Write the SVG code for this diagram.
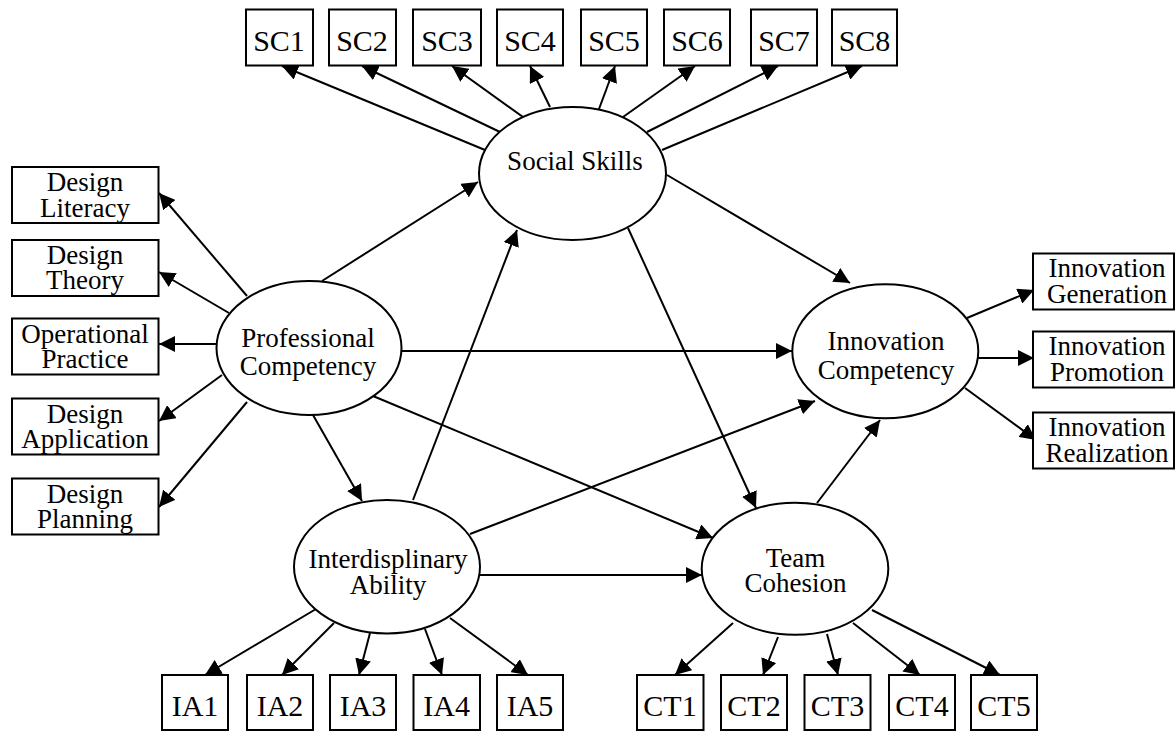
<svg xmlns="http://www.w3.org/2000/svg" width="1176" height="731" viewBox="0 0 1176 731">
<defs>
<marker id="ah" markerUnits="userSpaceOnUse" markerWidth="16" markerHeight="16" refX="16" refY="8" orient="auto">
<path d="M0,0 L16,8 L0,16 z" fill="#000"/>
</marker>
<style>
.c line{stroke:#000;stroke-width:2;marker-end:url(#ah)}
rect{fill:#fff;stroke:#000;stroke-width:2}
ellipse{fill:#fff;stroke:#000;stroke-width:2}
text{font-family:'Liberation Serif','DejaVu Serif',serif;fill:#000;text-anchor:middle}
.b{font-size:27px}
.s{font-size:30px}
</style>
</defs>
<rect x="0" y="0" width="1176" height="731" style="fill:#fff;stroke:none"/>
<g id="connectors" class="c">
<line x1="485" y1="150" x2="282" y2="66"/>
<line x1="500" y1="132" x2="362" y2="66"/>
<line x1="523" y1="117" x2="452" y2="66"/>
<line x1="550" y1="107" x2="530" y2="66"/>
<line x1="599" y1="109" x2="615" y2="66"/>
<line x1="623" y1="117" x2="695" y2="66"/>
<line x1="647" y1="132" x2="778" y2="66"/>
<line x1="662" y1="150" x2="862" y2="66"/>
<line x1="667" y1="175" x2="850" y2="283"/>
<line x1="628" y1="228" x2="756" y2="508"/>
<line x1="322" y1="281" x2="478" y2="182"/>
<line x1="402" y1="351" x2="792" y2="351"/>
<line x1="313" y1="415" x2="362" y2="501"/>
<line x1="373" y1="396" x2="713" y2="538"/>
<line x1="247" y1="296" x2="159" y2="193"/>
<line x1="229" y1="313" x2="159" y2="272"/>
<line x1="217" y1="344" x2="159" y2="344"/>
<line x1="222" y1="375" x2="159" y2="421"/>
<line x1="247" y1="402" x2="159" y2="507"/>
<line x1="413" y1="500" x2="517" y2="230"/>
<line x1="470" y1="534" x2="815" y2="401"/>
<line x1="480" y1="575" x2="702" y2="575"/>
<line x1="316" y1="609" x2="205" y2="675"/>
<line x1="334" y1="623" x2="282" y2="675"/>
<line x1="370" y1="633" x2="359" y2="675"/>
<line x1="425" y1="629" x2="442" y2="675"/>
<line x1="450" y1="618" x2="528" y2="675"/>
<line x1="817" y1="503" x2="880" y2="420"/>
<line x1="733" y1="623" x2="675" y2="675"/>
<line x1="778" y1="637" x2="763" y2="675"/>
<line x1="827" y1="634" x2="838" y2="675"/>
<line x1="853" y1="623" x2="920" y2="675"/>
<line x1="872" y1="610" x2="1000" y2="675"/>
<line x1="967" y1="318" x2="1034" y2="290"/>
<line x1="978" y1="358" x2="1034" y2="358"/>
<line x1="965" y1="388" x2="1036" y2="440"/>
</g>
<g font-family="Liberation Serif, DejaVu Serif, serif">
<g id="SC1"><rect x="246" y="9.5" width="67" height="56"/><text class="s" x="279" y="51">SC1</text></g>
<g id="SC2"><rect x="329" y="9.5" width="67" height="56"/><text class="s" x="362" y="51">SC2</text></g>
<g id="SC3"><rect x="413" y="9.5" width="68" height="56"/><text class="s" x="447" y="51">SC3</text></g>
<g id="SC4"><rect x="497" y="9.5" width="66" height="56"/><text class="s" x="530" y="51">SC4</text></g>
<g id="SC5"><rect x="581" y="9.5" width="66" height="56"/><text class="s" x="614" y="51">SC5</text></g>
<g id="SC6"><rect x="664" y="9.5" width="66" height="56"/><text class="s" x="697" y="51">SC6</text></g>
<g id="SC7"><rect x="751" y="9.5" width="66" height="56"/><text class="s" x="784" y="51">SC7</text></g>
<g id="SC8"><rect x="832" y="9.5" width="65" height="56"/><text class="s" x="864.5" y="51">SC8</text></g>
<g id="social-skills"><ellipse cx="572.5" cy="173.5" rx="93.5" ry="66.5"/><text class="b" x="575" y="170">Social Skills</text></g>
<g id="design-literacy"><rect x="12" y="167" width="146.5" height="56"/><text class="b" x="85" y="191">Design</text><text class="b" x="85" y="216.5">Literacy</text></g>
<g id="design-theory"><rect x="12" y="240" width="146.5" height="56"/><text class="b" x="85" y="264">Design</text><text class="b" x="85" y="289">Theory</text></g>
<g id="operational-practice"><rect x="12" y="318.5" width="146.5" height="56"/><text class="b" x="85" y="342.5">Operational</text><text class="b" x="85" y="367.5">Practice</text></g>
<g id="design-application"><rect x="12" y="398.5" width="146.5" height="56"/><text class="b" x="85" y="422.5">Design</text><text class="b" x="85" y="447.5">Application</text></g>
<g id="design-planning"><rect x="12" y="478.5" width="146.5" height="56"/><text class="b" x="85" y="502.5">Design</text><text class="b" x="85" y="527.5">Planning</text></g>
<g id="professional-competency"><ellipse cx="309" cy="348" rx="92.5" ry="67"/><text class="b" x="308" y="347">Professional</text><text class="b" x="308" y="375">Competency</text></g>
<g id="innovation-competency"><ellipse cx="885.3" cy="351.3" rx="93" ry="67"/><text class="b" x="886" y="350">Innovation</text><text class="b" x="886" y="379">Competency</text></g>
<g id="innovation-generation"><rect x="1033" y="253.5" width="141" height="56"/><text class="b" x="1107" y="277">Innovation</text><text class="b" x="1107" y="302.5">Generation</text></g>
<g id="innovation-promotion"><rect x="1033" y="331.5" width="141" height="56"/><text class="b" x="1107" y="355">Innovation</text><text class="b" x="1107" y="380.5">Promotion</text></g>
<g id="innovation-realization"><rect x="1033" y="412.5" width="141" height="56"/><text class="b" x="1107" y="436">Innovation</text><text class="b" x="1107" y="461.5">Realization</text></g>
<g id="interdisciplinary-ability"><ellipse cx="387" cy="566.7" rx="93" ry="66.7"/><text class="b" x="388" y="568">Interdisplinary</text><text class="b" x="388" y="594">Ability</text></g>
<g id="team-cohesion"><ellipse cx="795" cy="568.8" rx="93.3" ry="66"/><text class="b" x="795.5" y="566.5">Team</text><text class="b" x="795.5" y="591.5">Cohesion</text></g>
<g id="IA1"><rect x="162" y="675" width="66" height="55"/><text class="s" x="195" y="716">IA1</text></g>
<g id="IA2"><rect x="247" y="675" width="66" height="55"/><text class="s" x="280" y="716">IA2</text></g>
<g id="IA3"><rect x="330" y="675" width="66" height="55"/><text class="s" x="363" y="716">IA3</text></g>
<g id="IA4"><rect x="413.5" y="675" width="66.5" height="55"/><text class="s" x="446.7" y="716">IA4</text></g>
<g id="IA5"><rect x="497" y="675" width="66" height="55"/><text class="s" x="530" y="716">IA5</text></g>
<g id="CT1"><rect x="637" y="675" width="66.5" height="55"/><text class="s" x="670" y="716">CT1</text></g>
<g id="CT2"><rect x="721" y="675" width="66" height="55"/><text class="s" x="754" y="716">CT2</text></g>
<g id="CT3"><rect x="804.5" y="675" width="66" height="55"/><text class="s" x="837.5" y="716">CT3</text></g>
<g id="CT4"><rect x="889" y="675" width="66" height="55"/><text class="s" x="922" y="716">CT4</text></g>
<g id="CT5"><rect x="971" y="675" width="66" height="55"/><text class="s" x="1004" y="716">CT5</text></g>
</g>
</svg>
